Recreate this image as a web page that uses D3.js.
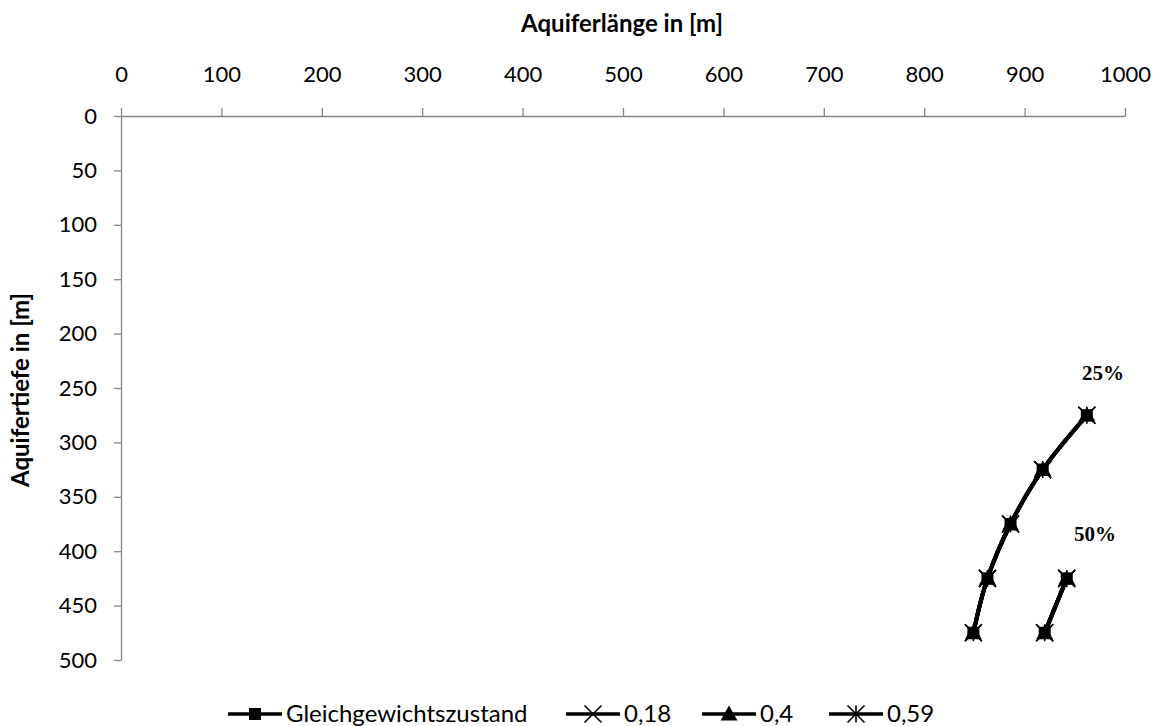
<!DOCTYPE html>
<html><head><meta charset="utf-8">
<script src="https://cdn.jsdelivr.net/npm/d3@7"></script>
<style>body{margin:0;background:#fff}svg{display:block}</style>
</head><body>
<svg id="c" width="1158" height="726"></svg>
<script>
const xTicks = [0,100,200,300,400,500,600,700,800,900,1000];
const yTicks = [0,50,100,150,200,250,300,350,400,450,500];
const seriesNames = ["Gleichgewichtszustand","0,18","0,4","0,59"];
const seriesMarkers = ["square","cross","triangle","asterisk"];
// curve 25%
const depth25 = [275,325,375,425,475];
const length25 = [962,918,886,863,849];
// curve 50%
const depth50 = [425,475];
const length50 = [942,920];
const curveLabels = ["25%","50%"];
const labelPos = [[978,243],[970,391]];

const svg = d3.select("#c");
const x = d3.scaleLinear().domain([0,1000]).range([121,1125]);
const y = d3.scaleLinear().domain([0,500]).range([116,660]);
const axisColor="#868686";
const font="Lato, 'Open Sans', sans-serif";

const xa = svg.append("g").attr("transform",`translate(0,${y(0)})`)
  .call(d3.axisTop(x).tickValues(xTicks).tickFormat(d3.format("d")).tickSize(8).tickPadding(26).tickSizeOuter(0));
const ya = svg.append("g").attr("transform",`translate(${x(0)},0)`)
  .call(d3.axisLeft(y).tickValues(yTicks).tickFormat(d3.format("d")).tickSize(7).tickPadding(17).tickSizeOuter(0));
[xa,ya].forEach(a=>{
  a.selectAll("path,line").attr("stroke",axisColor).attr("stroke-width",1.3);
  a.selectAll("text").attr("font-family",font).attr("font-size",22).attr("fill","#000");
});

svg.append("text").attr("x",622).attr("y",32).attr("text-anchor","middle")
  .attr("font-family",font).attr("font-weight","bold").attr("font-size",24).text("Aquiferlänge in [m]");
svg.append("text").attr("transform","translate(29,390) rotate(-90)").attr("text-anchor","middle")
  .attr("font-family",font).attr("font-weight","bold").attr("font-size",24).text("Aquifertiefe in [m]");

const line = d3.line().x(d=>x(d[0])).y(d=>y(d[1])).curve(d3.curveCardinal.tension(0));
const curves = [d3.zip(length25,depth25), d3.zip(length50,depth50)];

function marker(g,type,cx,cy){
  if(type==="square"){
    const s=12;
    g.append("rect").attr("x",cx-s/2).attr("y",cy-s/2).attr("width",s).attr("height",s).attr("fill","#000");
  } else if(type==="cross"){
    const r=8.5;
    g.append("path").attr("d",`M${cx-r},${cy-r}L${cx+r},${cy+r}M${cx-r},${cy+r}L${cx+r},${cy-r}`)
      .attr("stroke","#000").attr("stroke-width",1.6);
  } else if(type==="triangle"){
    const r=8.5;
    g.append("path").attr("d",`M${cx},${cy-r}L${cx+r},${cy+r*0.75}L${cx-r},${cy+r*0.75}Z`).attr("fill","#000");
  } else if(type==="asterisk"){
    const r=8.5;
    g.append("path").attr("d",`M${cx-r},${cy-r}L${cx+r},${cy+r}M${cx-r},${cy+r}L${cx+r},${cy-r}M${cx},${cy-r}L${cx},${cy+r}`)
      .attr("stroke","#000").attr("stroke-width",1.6);
  }
}

seriesNames.forEach((name,i)=>{
  const g = svg.append("g");
  curves.forEach(c=>{
    g.append("path").attr("d",line(c)).attr("fill","none").attr("stroke","#000").attr("stroke-width",4);
  });
  curves.forEach(c=>c.forEach(d=>marker(g,seriesMarkers[i],x(d[0]),y(d[1]))));
});

curveLabels.forEach((t,i)=>{
  svg.append("text").attr("x",x(labelPos[i][0])).attr("y",y(labelPos[i][1])).attr("text-anchor","middle")
    .attr("font-family","'Liberation Serif', serif").attr("font-weight","bold").attr("font-size",21).text(t);
});

const legX=[228,566,702,829];
seriesNames.forEach((name,i)=>{
  const g=svg.append("g");
  const ly=714;
  g.append("line").attr("x1",legX[i]).attr("x2",legX[i]+54).attr("y1",ly).attr("y2",ly).attr("stroke","#000").attr("stroke-width",3.5);
  marker(g,seriesMarkers[i],legX[i]+27,ly);
  g.append("text").attr("x",legX[i]+58).attr("y",ly+8).attr("font-family",font).attr("font-size",24).text(name);
});
</script>
</body></html>
